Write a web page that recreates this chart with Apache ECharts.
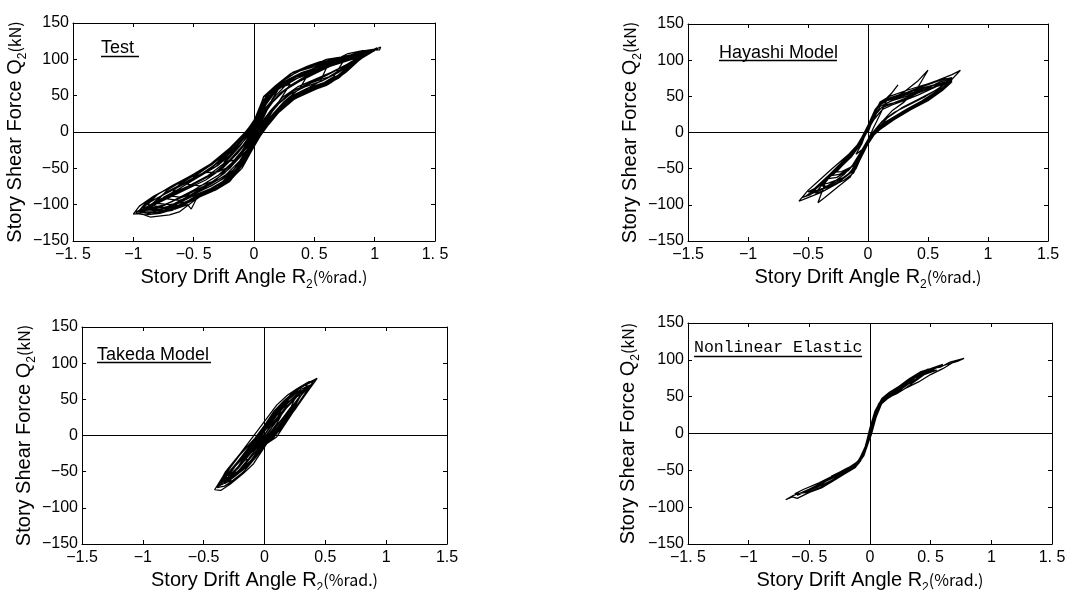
<!DOCTYPE html>
<html>
<head>
<meta charset="utf-8">
<title>Story shear force vs drift angle</title>
<script src="https://cdn.jsdelivr.net/npm/echarts@6/dist/echarts.min.js"></script>
<style>
  html, body { margin: 0; padding: 0; background: #fff; }
  #chart { width: 1068px; height: 590px; }
</style>
</head>
<body>
<div id="chart"></div>
<script>
// tick labels (the Test / Nonlinear panels use the spaced Japanese-style decimals)
var xTicksSpaced = ['−1. 5', '−1', '−0. 5', '0', '0. 5', '1', '1. 5']
var xTicksPlain = ['−1.5', '−1', '−0.5', '0', '0.5', '1', '1.5']
var yTicks = ['−150', '−100', '−50', '0', '50', '100', '150']

var panelTitles = ['Test', 'Hayashi Model', 'Takeda Model', 'Nonlinear Elastic']

// R2 (%rad.), Q2 (kN), in loading order
var testPath = [
  [0, 0], [0.08, 20], [0.15, 45], [0.2, 58], [0.12, 48], [0.05, 30], [0, 10], [-0.1, -12], [-0.2, -32], [-0.25, -42],
  [-0.15, -38], [-0.05, -20], [0.03, 0], [0.1, 15], [0.2, 40], [0.3, 66],
  [0.2, 60], [0.1, 46], [0.03, 20], [-0.07, 0], [-0.2, -25], [-0.32, -44], [-0.4, -56], [-0.3, -55], [-0.18, -46],
  [-0.06, -25], [0.03, -3], [0.12, 18], [0.25, 42], [0.38, 60], [0.45, 80],
  [0.35, 76], [0.2, 64], [0.1, 48], [0.02, 18], [-0.08, -2], [-0.22, -28], [-0.38, -48], [-0.5, -62], [-0.55, -72],
  [-0.45, -74], [-0.3, -66], [-0.17, -52], [-0.06, -28], [0.03, -5], [0.12, 15], [0.25, 38], [0.4, 56], [0.55, 70], [0.6, 88],
  [0.5, 86], [0.35, 78], [0.2, 65], [0.1, 49], [0.02, 18], [-0.08, -3], [-0.2, -24], [-0.35, -45], [-0.5, -60], [-0.62, -72],
  [-0.7, -88], [-0.6, -90], [-0.48, -84], [-0.35, -74], [-0.2, -58], [-0.08, -33], [0.02, -8], [0.1, 10], [0.22, 34],
  [0.38, 52], [0.52, 62], [0.66, 76], [0.75, 100],
  [0.6, 96], [0.45, 90], [0.3, 80], [0.18, 64], [0.08, 48], [0, 15], [-0.1, -6], [-0.25, -30], [-0.42, -52], [-0.58, -66],
  [-0.72, -80], [-0.82, -98], [-0.7, -100], [-0.56, -96], [-0.5, -90], [-0.4, -82], [-0.28, -72], [-0.15, -54], [-0.04, -27],
  [0.05, -2], [0.15, 22], [0.3, 46], [0.45, 60], [0.58, 66], [0.72, 80], [0.82, 98], [0.88, 108],
  [0.75, 104], [0.6, 98], [0.55, 97], [0.45, 91], [0.3, 80], [0.18, 64], [0.08, 49], [0.02, 20], [-0.07, 0], [-0.2, -22],
  [-0.36, -44], [-0.52, -60], [-0.68, -74], [-0.82, -88], [-0.92, -105], [-0.8, -108], [-0.65, -106], [-0.55, -100],
  [-0.52, -106], [-0.48, -93], [-0.4, -83], [-0.28, -76], [-0.16, -60], [-0.05, -32], [0.03, -10], [0.1, 8], [0.22, 34],
  [0.36, 52], [0.5, 61], [0.6, 64], [0.7, 76], [0.82, 94], [0.95, 110], [1.05, 117],
  [1.04, 113], [0.9, 112], [0.78, 108], [0.72, 103], [0.6, 100], [0.56, 97], [0.5, 93], [0.32, 82], [0.2, 66], [0.1, 50],
  [0.03, 22], [-0.06, 2], [-0.17, -18], [-0.33, -41], [-0.5, -58], [-0.67, -74], [-0.83, -88], [-0.95, -102], [-1.0, -113],
  [-0.95, -112], [-0.86, -117], [-0.7, -114], [-0.62, -110], [-0.5, -95], [-0.42, -86], [-0.3, -78], [-0.17, -62],
  [-0.06, -36], [0.02, -12], [0.08, 4], [0.2, 30], [0.33, 50], [0.45, 58], [0.55, 61], [0.65, 70], [0.78, 88], [0.9, 104], [1.0, 112],
  [0.85, 108], [0.7, 102], [0.55, 95], [0.4, 86], [0.25, 73], [0.12, 55], [0.05, 30], [-0.03, 8], [-0.12, -10], [-0.28, -36],
  [-0.45, -55], [-0.62, -70], [-0.78, -84], [-0.9, -98], [-0.95, -108], [-0.82, -112], [-0.68, -108], [-0.55, -96],
  [-0.45, -88], [-0.32, -80], [-0.2, -68], [-0.08, -42], [0, -16], [0.06, 0], [0.16, 22], [0.28, 44], [0.42, 56],
  [0.56, 64], [0.7, 78], [0.8, 94], [0.92, 108],
  [0.8, 106], [0.65, 100], [0.5, 92], [0.35, 82], [0.22, 68], [0.12, 52], [0.04, 26], [-0.05, 4], [-0.15, -14], [-0.3, -38],
  [-0.48, -58], [-0.65, -72], [-0.8, -86], [-0.88, -100], [-0.75, -104], [-0.6, -100], [-0.45, -88], [-0.3, -76],
  [-0.15, -56], [-0.03, -26], [0.05, -2], [0.18, 26], [0.32, 48], [0.48, 58], [0.62, 66], [0.75, 84], [0.85, 104],
  [0.7, 98], [0.55, 90], [0.4, 82], [0.28, 72], [0.17, 58], [0.08, 40], [0.02, 16], [-0.06, -4], [-0.18, -26], [-0.32, -48],
  [-0.48, -64], [-0.62, -78], [-0.75, -90], [-0.85, -104], [-0.75, -104], [-0.62, -98], [-0.5, -86], [-0.38, -76],
  [-0.25, -64], [-0.12, -44], [-0.03, -20], [0.05, -2], [0.14, 16], [0.26, 38], [0.4, 54], [0.55, 64], [0.68, 76], [0.8, 92], [0.95, 110],
  [0.82, 104], [0.68, 96], [0.52, 86], [0.38, 78], [0.25, 68], [0.14, 52], [0.06, 30], [-0.02, 6], [-0.1, -10], [-0.24, -34],
  [-0.4, -56], [-0.56, -70], [-0.72, -84], [-0.86, -96], [-0.97, -110], [-0.88, -112], [-0.72, -108], [-0.58, -100],
  [-0.46, -90], [-0.35, -82], [-0.22, -70], [-0.1, -50], [-0.02, -26], [0.05, -6], [0.12, 10], [0.25, 36], [0.4, 54],
  [0.56, 62], [0.7, 74], [0.85, 96], [0.98, 112],
  [0.9, 110], [0.76, 102], [0.62, 94], [0.48, 86], [0.36, 78], [0.22, 64], [0.12, 46], [0.05, 24], [-0.03, 2], [-0.14, -18],
  [-0.28, -40], [-0.44, -58], [-0.6, -73], [-0.76, -87], [-0.9, -100], [-0.98, -112], [-0.9, -114], [-0.78, -112],
  [-0.66, -106], [-0.56, -98], [-0.44, -86], [-0.3, -74], [-0.18, -58], [-0.08, -38], [0, -14], [0.07, 2], [0.16, 20],
  [0.3, 42], [0.46, 56], [0.6, 64], [0.72, 78], [0.86, 100], [1.0, 114],
  [0.92, 112], [0.8, 106], [0.65, 98], [0.5, 90], [0.38, 84], [0.26, 74], [0.15, 58], [0.07, 42], [0.01, 14], [-0.08, -4],
  [-0.22, -28], [-0.4, -50], [-0.56, -64], [-0.72, -78], [-0.86, -92], [-0.94, -106], [-0.84, -108], [-0.7, -104],
  [-0.6, -96], [-0.48, -86], [-0.36, -78], [-0.24, -68], [-0.14, -54], [-0.04, -30], [0.04, -8], [0.1, 6], [0.2, 26],
  [0.34, 46], [0.5, 58], [0.64, 68], [0.76, 82], [0.88, 100], [0.98, 110],
  [0.85, 102], [0.7, 94], [0.55, 86], [0.42, 78], [0.3, 70], [0.18, 56], [0.1, 38], [0.03, 14], [-0.05, -6], [-0.16, -26],
  [-0.3, -46], [-0.46, -62], [-0.6, -76], [-0.72, -92], [-0.62, -94], [-0.5, -88], [-0.38, -80], [-0.26, -68], [-0.14, -50],
  [-0.05, -26], [0.03, -4], [0.12, 14], [0.24, 34], [0.38, 52], [0.52, 60], [0.66, 72], [0.78, 90], [0.9, 106],
  [0.78, 100], [0.62, 92], [0.48, 84], [0.34, 76], [0.22, 62], [0.12, 44], [0.05, 22], [-0.03, 2], [-0.12, -16], [-0.26, -38],
  [-0.42, -56], [-0.58, -70], [-0.74, -84], [-0.88, -104], [-0.76, -108], [-0.64, -102], [-0.54, -94], [-0.42, -84],
  [-0.3, -76], [-0.18, -62], [-0.07, -38], [0.01, -14], [0.08, 2], [0.18, 24], [0.3, 44], [0.46, 58], [0.6, 66], [0.74, 80],
  [0.86, 100], [1.02, 116],
  [0.92, 108], [0.8, 100], [0.65, 92], [0.5, 80], [0.38, 70], [0.26, 58], [0.16, 42], [0.08, 24], [0.02, 4], [-0.05, -12],
  [-0.14, -30], [-0.26, -50], [-0.4, -66], [-0.55, -78], [-0.7, -90], [-0.85, -102], [-0.98, -110],
  [-0.82, -106], [-0.68, -96], [-0.54, -84], [-0.42, -72], [-0.3, -60], [-0.18, -42], [-0.1, -26], [-0.02, -6], [0.05, 10],
  [0.14, 30], [0.24, 48], [0.36, 62], [0.5, 72], [0.64, 82], [0.78, 94], [0.92, 106], [1.0, 112],
  [0.86, 104], [0.72, 96], [0.58, 88], [0.46, 78], [0.34, 68], [0.22, 54], [0.12, 36], [0.05, 16], [-0.02, -2], [-0.09, -18],
  [-0.2, -38], [-0.34, -58], [-0.5, -72], [-0.66, -84], [-0.8, -96], [-0.92, -108],
  [-0.78, -104], [-0.64, -92], [-0.5, -80], [-0.38, -68], [-0.26, -56], [-0.15, -38], [-0.07, -20], [0, -2], [0.07, 14],
  [0.18, 36], [0.3, 54], [0.44, 66], [0.58, 76], [0.72, 88], [0.86, 102], [0.96, 110],
  [0.84, 106], [0.7, 99], [0.56, 92], [0.44, 84], [0.32, 74], [0.2, 60], [0.1, 42], [0.04, 20], [-0.04, -2], [-0.12, -20],
  [-0.24, -42], [-0.38, -60], [-0.54, -74], [-0.7, -86], [-0.84, -98], [-0.96, -110],
  [-0.84, -110], [-0.7, -102], [-0.56, -90], [-0.44, -78], [-0.32, -66], [-0.2, -50], [-0.1, -30], [-0.03, -12], [0.04, 4],
  [0.12, 22], [0.22, 42], [0.34, 58], [0.48, 68], [0.62, 76], [0.76, 90], [0.9, 104], [1.03, 115],
  [0.9, 106], [0.75, 98], [0.6, 90], [0.47, 82], [0.36, 74], [0.26, 64], [0.18, 50], [0.1, 34], [0.04, 14], [-0.03, -4],
  [-0.1, -20], [-0.2, -40], [-0.32, -56], [-0.46, -68], [-0.6, -80], [-0.74, -92], [-0.88, -106],
  [-0.74, -100], [-0.6, -90], [-0.48, -80], [-0.36, -70], [-0.24, -56], [-0.13, -36], [-0.05, -16], [0.02, 0], [0.09, 16],
  [0.2, 38], [0.3, 52], [0.42, 62], [0.56, 70], [0.7, 82], [0.84, 98], [0.94, 108],
  [0.82, 102], [0.68, 94], [0.54, 86], [0.42, 76], [0.3, 64], [0.2, 50], [0.12, 34], [0.06, 18], [0, 2], [-0.07, -14],
  [-0.16, -32], [-0.28, -52], [-0.44, -66], [-0.6, -80], [-0.76, -94], [-0.9, -108],
  [-0.76, -106], [-0.62, -96], [-0.48, -84], [-0.36, -72], [-0.24, -60], [-0.12, -40], [-0.04, -20], [0.03, -4], [0.1, 12],
  [0.2, 32], [0.32, 50], [0.44, 60], [0.58, 68], [0.72, 80], [0.86, 98], [0.98, 112]
]

var hayashiPath = [
  [0, 0], [0.04, 18], [0.08, 34], [0.12, 42], [0.06, 30], [0, 8], [-0.05, -15], [-0.1, -30], [-0.05, -24], [0, -10],
  [0.05, 8], [0.1, 25], [0.16, 46], [0.25, 66],
  [0.2, 55], [0.12, 42], [0.06, 30], [0.01, 10], [-0.05, -10], [-0.12, -28], [-0.22, -45], [-0.3, -55], [-0.22, -54],
  [-0.12, -46], [-0.05, -25], [0.02, -5], [0.1, 12], [0.2, 30], [0.3, 42], [0.4, 58], [0.5, 86],
  [0.42, 72], [0.3, 56], [0.2, 47], [0.12, 42], [0.06, 30], [0, 8], [-0.06, -12], [-0.16, -30], [-0.3, -50], [-0.42, -68],
  [-0.5, -80], [-0.575, -95], [-0.5, -90], [-0.38, -82], [-0.25, -70], [-0.15, -56], [-0.06, -30], [0.02, -6], [0.1, 8],
  [0.25, 22], [0.4, 36], [0.55, 52], [0.68, 70], [0.77, 86],
  [0.7, 80], [0.58, 72], [0.45, 64], [0.33, 56], [0.2, 48], [0.1, 40], [0.04, 24], [-0.02, 2], [-0.1, -20], [-0.22, -42],
  [-0.34, -62], [-0.417, -97], [-0.36, -90], [-0.25, -75], [-0.15, -62], [-0.06, -34], [0.01, -10], [0.1, 6], [0.24, 20],
  [0.38, 34], [0.52, 48], [0.66, 66], [0.7, 72],
  [0.6, 68], [0.48, 62], [0.36, 54], [0.24, 48], [0.14, 43], [0.07, 34], [0, 10], [-0.08, -16], [-0.2, -38], [-0.32, -58],
  [-0.45, -78], [-0.5, -82], [-0.42, -80], [-0.3, -72], [-0.18, -60], [-0.08, -42], [0, -16], [0.08, 4], [0.2, 18],
  [0.35, 32], [0.5, 46], [0.62, 60], [0.7, 76],
  [0.6, 72], [0.45, 65], [0.3, 57], [0.18, 50], [0.1, 42], [0.03, 18], [-0.04, -8], [-0.15, -32], [-0.28, -52], [-0.4, -72],
  [-0.33, -70], [-0.2, -62], [-0.1, -50], [-0.03, -24], [0.04, -4], [0.14, 12], [0.3, 28], [0.45, 42], [0.6, 58], [0.68, 68],
  [0.58, 64], [0.44, 58], [0.3, 52], [0.16, 44], [0.08, 36], [0.02, 12], [-0.06, -14], [-0.18, -38], [-0.3, -58], [-0.38, -74],
  [-0.3, -74], [-0.2, -66], [-0.12, -56], [-0.04, -28], [0.03, -2], [0.12, 10], [0.26, 24], [0.4, 38], [0.55, 54], [0.66, 64],
  [0.65, 75], [0.5, 66], [0.35, 57], [0.22, 50], [0.12, 44], [0.06, 32], [0, 10], [-0.06, -14], [-0.14, -30], [-0.24, -46],
  [-0.32, -60], [-0.24, -58], [-0.14, -48], [-0.05, -24], [0.02, -4], [0.1, 8], [0.2, 20], [0.32, 32], [0.45, 44], [0.58, 58], [0.66, 70],
  [0.55, 66], [0.42, 60], [0.28, 52], [0.16, 46], [0.09, 38], [0.02, 14], [-0.05, -10], [-0.15, -34], [-0.26, -52],
  [-0.36, -68], [-0.44, -84], [-0.36, -80], [-0.24, -68], [-0.13, -54], [-0.05, -30], [0.02, -8], [0.1, 4], [0.22, 18],
  [0.36, 32], [0.5, 44], [0.62, 58], [0.7, 70],
  [0.6, 66], [0.46, 58], [0.32, 50], [0.2, 44], [0.1, 36], [0.04, 16], [-0.03, -6], [-0.12, -26], [-0.22, -44],
  [-0.34, -62], [-0.48, -86], [-0.55, -90], [-0.46, -84], [-0.34, -76], [-0.22, -64], [-0.12, -52], [-0.04, -26], [0.03, -4],
  [0.14, 14], [0.28, 28], [0.42, 40], [0.56, 54], [0.64, 62],
  [0.68, 72], [0.55, 62], [0.42, 52], [0.3, 44], [0.2, 38], [0.12, 32], [0.05, 18], [0, 4], [-0.06, -16], [-0.14, -34],
  [-0.24, -50], [-0.36, -66], [-0.48, -82], [-0.4, -80], [-0.3, -70], [-0.2, -58], [-0.1, -40], [-0.03, -18], [0.04, 0],
  [0.12, 16], [0.22, 28], [0.34, 38], [0.48, 50], [0.6, 62], [0.7, 74],
  [0.6, 70], [0.48, 60], [0.36, 50], [0.24, 42], [0.14, 38], [0.07, 28], [0.01, 6], [-0.07, -18], [-0.16, -36], [-0.26, -54],
  [-0.34, -64], [-0.26, -62], [-0.16, -52], [-0.08, -36], [-0.01, -14], [0.06, 2], [0.16, 20], [0.28, 34], [0.42, 46],
  [0.56, 58], [0.67, 70],
  [0.56, 64], [0.44, 56], [0.32, 48], [0.2, 40], [0.11, 34], [0.05, 22], [-0.01, 0], [-0.08, -20], [-0.18, -40], [-0.3, -58],
  [-0.42, -76], [-0.52, -88]
]

var takedaPath = [
  [0, 0], [0.05, 15], [0.1, 30], [0.05, 20], [0, 6], [-0.05, -8], [-0.1, -22], [-0.05, -16], [0, -4], [0.05, 8], [0.1, 22], [0.15, 40],
  [0.1, 32], [0.03, 14], [-0.03, 0], [-0.1, -18], [-0.18, -35], [-0.12, -32], [-0.05, -18], [0.02, -2], [0.1, 16], [0.2, 48],
  [0.14, 38], [0.06, 20], [0, 6], [-0.08, -12], [-0.16, -28], [-0.25, -52], [-0.18, -48], [-0.1, -32], [-0.02, -12],
  [0.06, 4], [0.14, 22], [0.22, 40], [0.28, 62],
  [0.22, 56], [0.14, 40], [0.06, 22], [0, 10], [-0.08, -8], [-0.18, -28], [-0.28, -52], [-0.33, -66], [-0.26, -62],
  [-0.17, -50], [-0.08, -32], [0, -12], [0.08, 4], [0.18, 26], [0.28, 50], [0.35, 70],
  [0.3, 68], [0.22, 58], [0.14, 42], [0.06, 26], [0, 12], [-0.09, -6], [-0.2, -25], [-0.31, -48], [-0.41, -75], [-0.36, -76],
  [-0.28, -67], [-0.17, -52], [-0.09, -39], [0.02, -11], [0.1, -2], [0.21, 26], [0.32, 54], [0.433, 79],
  [0.35, 72], [0.27, 65], [0.19, 56], [0.1, 42], [0.02, 24], [-0.06, 6], [-0.15, -14], [-0.24, -34], [-0.32, -52], [-0.38, -70],
  [-0.3, -64], [-0.2, -50], [-0.12, -40], [-0.04, -20], [0.05, -4], [0.14, 14], [0.24, 36], [0.34, 58], [0.4, 75],
  [0.32, 68], [0.24, 60], [0.16, 48], [0.08, 34], [0, 14], [-0.08, -4], [-0.18, -22], [-0.28, -44], [-0.35, -62],
  [-0.27, -58], [-0.18, -47], [-0.1, -34], [-0.02, -14], [0.06, 0], [0.16, 20], [0.26, 44], [0.33, 64],
  [0.25, 58], [0.16, 44], [0.08, 28], [0, 10], [-0.1, -12], [-0.2, -32], [-0.3, -56], [-0.22, -50], [-0.12, -36], [-0.03, -16],
  [0.06, 2], [0.15, 18], [0.25, 40], [0.3, 56],
  [0.24, 52], [0.16, 40], [0.09, 30], [0.02, 16], [-0.05, 2], [-0.12, -14], [-0.22, -36], [-0.3, -52], [-0.38, -68],
  [-0.32, -66], [-0.24, -56], [-0.15, -44], [-0.07, -30], [0.01, -12], [0.08, -2], [0.16, 16], [0.26, 38], [0.36, 62], [0.42, 76],
  [0.36, 74], [0.28, 66], [0.2, 54], [0.12, 40], [0.04, 22], [-0.04, 4], [-0.12, -12], [-0.22, -30], [-0.32, -50],
  [-0.39, -72], [-0.33, -70], [-0.25, -62], [-0.16, -48], [-0.06, -26], [0.03, -8], [0.12, 6], [0.22, 30], [0.3, 50], [0.38, 70],
  [0.3, 64], [0.2, 50], [0.12, 36], [0.04, 18], [-0.04, 0], [-0.14, -20], [-0.24, -40], [-0.34, -60], [-0.26, -56],
  [-0.16, -42], [-0.08, -30], [0, -10], [0.09, 2], [0.18, 20], [0.27, 42], [0.37, 66],
  [0.34, 66], [0.26, 56], [0.18, 44], [0.1, 30], [0.03, 14], [-0.04, -2], [-0.12, -18], [-0.2, -34], [-0.28, -50],
  [-0.36, -66], [-0.3, -62], [-0.22, -50], [-0.14, -36], [-0.06, -20], [0.02, -4], [0.1, 10], [0.18, 28], [0.26, 46],
  [0.34, 64], [0.4, 72],
  [0.32, 62], [0.24, 50], [0.16, 36], [0.08, 20], [0.01, 4], [-0.07, -12], [-0.16, -28], [-0.26, -46], [-0.33, -60],
  [-0.25, -54], [-0.17, -42], [-0.09, -26], [-0.01, -8], [0.07, 8], [0.15, 24], [0.23, 40], [0.31, 58], [0.38, 68],
  [0.36, 68], [0.28, 58], [0.2, 46], [0.12, 32], [0.05, 16], [-0.02, 2], [-0.1, -14], [-0.18, -30], [-0.27, -48],
  [-0.35, -64], [-0.29, -60], [-0.21, -48], [-0.13, -32], [-0.05, -14], [0.03, 0], [0.11, 16], [0.2, 34], [0.28, 52], [0.36, 66],
  [0.28, 56], [0.2, 42], [0.12, 26], [0.04, 10], [-0.03, -6], [-0.11, -22], [-0.2, -40], [-0.29, -56], [-0.22, -46],
  [-0.14, -30], [-0.06, -14], [0.02, 2], [0.1, 20], [0.18, 38], [0.26, 52]
]

var nonlinearPath = [
  [0, 0], [0.033, 24], [0.088, 44], [0.17, 52], [0.25, 63], [0.3, 70], [0.25, 62], [0.17, 50], [0.09, 42], [0.03, 20], [0, 2],
  [-0.036, -22], [-0.1, -40], [-0.19, -50], [-0.3, -60], [-0.38, -66], [-0.3, -58], [-0.19, -48], [-0.1, -38], [-0.04, -20],
  [0, 0], [0.04, 26], [0.1, 46], [0.18, 54], [0.26, 66], [0.36, 77], [0.47, 86],
  [0.4, 80], [0.3, 70], [0.22, 58], [0.14, 50], [0.08, 42], [0.03, 22], [-0.01, 0], [-0.04, -20], [-0.1, -38], [-0.2, -52],
  [-0.3, -60], [-0.41, -68], [-0.52, -77], [-0.6, -84], [-0.52, -78], [-0.42, -72], [-0.32, -64], [-0.22, -55], [-0.12, -44],
  [-0.04, -24], [0, -2], [0.03, 20], [0.09, 44], [0.17, 50], [0.25, 62], [0.36, 76], [0.47, 87], [0.58, 90], [0.66, 97], [0.775, 102],
  [0.72, 98], [0.64, 94], [0.56, 90], [0.5, 86], [0.42, 82], [0.34, 76], [0.26, 66], [0.18, 56], [0.1, 46], [0.03, 24], [0, 4],
  [-0.035, -22], [-0.1, -42], [-0.19, -50], [-0.28, -56], [-0.41, -70], [-0.52, -78], [-0.63, -84], [-0.695, -90],
  [-0.64, -86], [-0.6, -88], [-0.5, -80], [-0.4, -74], [-0.3, -64], [-0.2, -54], [-0.1, -42], [-0.03, -20], [0.01, 2],
  [0.05, 28], [0.12, 48], [0.2, 54], [0.28, 60], [0.38, 72], [0.48, 84], [0.55, 86],
  [0.48, 82], [0.38, 76], [0.3, 70], [0.22, 60], [0.14, 52], [0.07, 40], [0.02, 14], [-0.02, -8], [-0.07, -34], [-0.14, -46],
  [-0.24, -52], [-0.34, -62], [-0.45, -72], [-0.38, -70], [-0.28, -60], [-0.18, -52], [-0.09, -40], [-0.02, -12], [0.03, 16],
  [0.1, 44], [0.2, 56], [0.3, 66], [0.4, 74],
  [0.34, 72], [0.26, 62], [0.18, 52], [0.1, 44], [0.05, 32], [0, 6], [-0.04, -18], [-0.09, -36], [-0.16, -46], [-0.26, -54],
  [-0.36, -64], [-0.48, -74], [-0.56, -80], [-0.48, -78], [-0.38, -72], [-0.28, -62], [-0.18, -50], [-0.11, -44], [-0.05, -28],
  [0.01, -2], [0.05, 22], [0.1, 42], [0.18, 52], [0.28, 64], [0.38, 74], [0.45, 82], [0.5, 88],
  [0.42, 84], [0.32, 74], [0.24, 64], [0.16, 56], [0.1, 48], [0.04, 30], [0, 8], [-0.05, -26], [-0.12, -42], [-0.22, -50],
  [-0.32, -58], [-0.28, -58], [-0.18, -48], [-0.08, -38], [-0.02, -14], [0.02, 10], [0.08, 38], [0.15, 48], [0.24, 58], [0.34, 70],
  [0.6, 94], [0.5, 88], [0.42, 80], [0.32, 72], [0.24, 62], [0.16, 52], [0.09, 44], [0.04, 28], [0, 2], [-0.04, -24],
  [-0.1, -40], [-0.2, -48], [-0.3, -57], [-0.42, -67], [-0.55, -76], [-0.62, -82], [-0.52, -80], [-0.42, -74], [-0.32, -66],
  [-0.22, -56], [-0.12, -46], [-0.05, -30], [0, -6], [0.04, 20], [0.08, 40], [0.14, 48], [0.22, 54], [0.3, 62], [0.4, 70],
  [0.5, 80], [0.6, 88], [0.68, 96]
]

var paths = [testPath, hayashiPath, takedaPath, nonlinearPath]
var xTickSets = [xTicksSpaced, xTicksPlain, xTicksPlain, xTicksSpaced]

// plot boxes
var boxes = [
  { left: 73, top: 23, width: 362, height: 218 },
  { left: 688, top: 24, width: 360, height: 217 },
  { left: 82, top: 327, width: 365, height: 217 },
  { left: 688, top: 323, width: 364, height: 221 }
]
var yNameGaps = [44, 40, 42, 46]

var nameRich = {
  a: { fontSize: 20, fontFamily: 'Liberation Sans', color: '#000' },
  s: { fontSize: 12, fontFamily: 'Liberation Sans', color: '#000', padding: [16, 0, 0, 0] },
  b: { fontSize: 16, fontFamily: 'Noto Sans CJK JP', color: '#000' }
}

var myChart = echarts.init(document.getElementById('chart'), null, { renderer: 'canvas' })

var xAxes = []
var yAxes = []
var series = []
var graphics = []

function tickIndex (v, min, step) {
  return Math.round((v - min) / step)
}

for (var i = 0; i < 4; i++) {
  var labels = xTickSets[i]
  var common = {
    gridIndex: i,
    type: 'value',
    axisLine: { onZero: false, lineStyle: { color: '#000', width: 1 } },
    axisTick: { inside: true, length: 4, lineStyle: { color: '#000' } },
    splitLine: { show: false }
  }
  xAxes.push(Object.assign({}, common, {
    position: 'bottom',
    min: -1.5,
    max: 1.5,
    interval: 0.5,
    axisLabel: {
      color: '#000',
      fontSize: 16,
      fontFamily: 'Liberation Sans',
      margin: 6,
      formatter: (function (lab) {
        return function (v) { return lab[tickIndex(v, -1.5, 0.5)] }
      })(labels)
    },
    name: '{a|Story Drift Angle R}{s|2}{b|(%rad.)}',
    nameLocation: 'middle',
    nameGap: 22,
    nameTextStyle: { rich: nameRich }
  }))
  xAxes.push(Object.assign({}, common, {
    position: 'top', min: -1.5, max: 1.5, interval: 0.5, axisLabel: { show: false }
  }))
  yAxes.push(Object.assign({}, common, {
    position: 'left',
    min: -150,
    max: 150,
    interval: 50,
    axisLabel: {
      color: '#000',
      fontSize: 16,
      fontFamily: 'Liberation Sans',
      margin: 4,
      formatter: function (v) { return yTicks[tickIndex(v, -150, 50)] }
    },
    name: '{a|Story Shear Force Q}{s|2}{b|(kN)}',
    nameLocation: 'middle',
    nameGap: yNameGaps[i],
    nameTextStyle: { rich: nameRich }
  }))
  yAxes.push(Object.assign({}, common, {
    position: 'right', min: -150, max: 150, interval: 50, axisLabel: { show: false }
  }))

  series.push({
    type: 'line',
    xAxisIndex: i * 2,
    yAxisIndex: i * 2,
    data: paths[i],
    symbol: 'none',
    lineStyle: { color: '#000', width: 1.25 },
    markLine: {
      silent: true,
      symbol: ['none', 'none'],
      label: { show: false },
      lineStyle: { color: '#000', width: 1, type: 'solid' },
      data: [{ xAxis: 0 }, { yAxis: 0 }]
    }
  })
}

// underlined panel captions
var captionPos = [
  { x: 101, y: 48, line: 56.5, w: 38, font: 'Liberation Sans', size: 18 },
  { x: 719, y: 53, line: 60.5, w: 118, font: 'Liberation Sans', size: 18 },
  { x: 97, y: 355, line: 362.5, w: 114, font: 'Liberation Sans', size: 18 },
  { x: 694, y: 348, line: 356.5, w: 168, font: 'Liberation Mono', size: 16.5 }
]
captionPos.forEach(function (c, k) {
  graphics.push({
    type: 'text',
    x: c.x,
    y: c.y,
    style: { text: panelTitles[k], fontSize: c.size, fontFamily: c.font, fill: '#000', verticalAlign: 'middle' }
  })
  graphics.push({
    type: 'line',
    shape: { x1: c.x, y1: c.line, x2: c.x + c.w, y2: c.line },
    style: { stroke: '#000', lineWidth: 1.5 }
  })
})

myChart.setOption({
  animation: false,
  backgroundColor: '#fff',
  grid: boxes.map(function (b) {
    // keep the measured boxes fixed even when the axis names reach the page edge
    return Object.assign({ containLabel: false, outerBoundsMode: 'none' }, b)
  }),
  xAxis: xAxes,
  yAxis: yAxes,
  series: series,
  graphic: graphics
})
</script>
</body>
</html>
